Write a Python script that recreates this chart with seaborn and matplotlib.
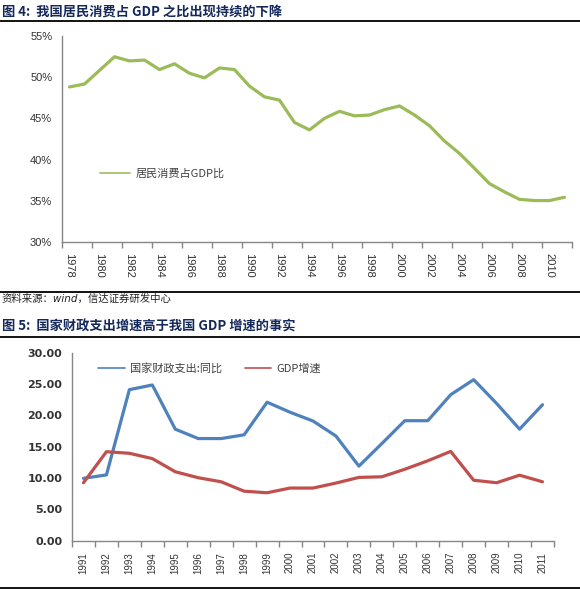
import matplotlib
matplotlib.use("Agg")
import matplotlib.pyplot as plt
import seaborn as sns
import pandas as pd
from matplotlib.lines import Line2D

# 图4 data
years1 = list(range(1978, 2012))
consume_share = [48.8, 49.15, 50.8, 52.45, 51.95, 52.05, 50.9, 51.6, 50.45, 49.9,
                 51.1, 50.9, 48.9, 47.6, 47.2, 44.5, 43.6, 45.0, 45.85, 45.3,
                 45.4, 46.05, 46.5, 45.4, 44.1, 42.25, 40.75, 38.95, 37.1, 36.1,
                 35.2, 35.05, 35.05, 35.45]

# 图5 data
years2 = list(range(1991, 2012))
fiscal_growth = [9.95, 10.5, 24.1, 24.85, 17.8, 16.3, 16.3, 16.9, 22.1, 20.5,
                 19.1, 16.7, 11.9, 15.5, 19.15, 19.15, 23.3, 25.7, 21.9, 17.8, 21.7]
gdp_growth = [9.25, 14.2, 13.95, 13.1, 11.0, 10.05, 9.4, 7.9, 7.65, 8.4,
              8.4, 9.2, 10.1, 10.2, 11.4, 12.75, 14.25, 9.65, 9.25, 10.45, 9.4]

sns.set_style("white")
plt.rcParams['font.family'] = ['Noto Sans CJK SC', 'DejaVu Sans']
plt.rcParams['axes.unicode_minus'] = False

W, H = 580, 589
fig = plt.figure(figsize=(W / 100, H / 100), dpi=100)

def fx(px):
    return px / W

def fy(py):
    return 1 - py / H

navy = '#14285a'
axis_gray = '#868686'
num_font = ['Liberation Sans Narrow', 'Liberation Sans', 'DejaVu Sans']

# titles, rules and source
fig.text(fx(2), fy(12), '图 4:  我国居民消费占 GDP 之比出现持续的下降', fontsize=9.5,
         fontweight='heavy', color=navy, va='center', ha='left')
fig.text(fx(2), fy(327), '图 5:  国家财政支出增速高于我国 GDP 增速的事实', fontsize=9.5,
         fontweight='heavy', color=navy, va='center', ha='left')
fig.text(fx(2), fy(299), '资料来源：wind，信达证券研发中心', fontsize=7.5,
         style='italic', family=['DejaVu Sans', 'Noto Sans CJK SC'],
         color='#222222', va='center', ha='left')
for py in (21, 292, 337, 588):
    fig.add_artist(Line2D([0, 1], [fy(py), fy(py)], color='black', lw=1.3,
                          transform=fig.transFigure))

def style_axis(ax):
    for s in ('top', 'right'):
        ax.spines[s].set_visible(False)
    for s in ('left', 'bottom'):
        ax.spines[s].set_color(axis_gray)
        ax.spines[s].set_linewidth(1.0)
    ax.tick_params(axis='y', which='major', direction='out', length=4, width=1,
                   color=axis_gray, pad=3)
    ax.tick_params(axis='x', which='major', length=0)
    ax.tick_params(axis='x', which='minor', direction='out', length=4, width=1,
                   color=axis_gray, bottom=True)
    ax.set_xlabel('')
    ax.set_ylabel('')
    ax.grid(False)

def thin_legend(leg):
    for h in leg.legend_handles:
        h.set_linewidth(1.2)

# ---- chart 1
ax1 = fig.add_axes([fx(62), fy(242.3), fx(510), (242.3 - 35.7) / H])
df1 = pd.DataFrame({'idx': range(len(years1)), 'val': consume_share})
sns.lineplot(data=df1, x='idx', y='val', color='#9bbb59', lw=2.3, ax=ax1,
             label='居民消费占GDP比')
ax1.set_xlim(-0.5, len(years1) - 0.5)
ax1.set_ylim(30, 55)
ax1.set_yticks(range(30, 56, 5))
ax1.set_yticklabels([f'{v}%' for v in range(30, 56, 5)], fontsize=8,
                    family=num_font, color='#333333')
ax1.set_xticks(range(0, len(years1), 2))
ax1.set_xticklabels([str(y) for y in years1[::2]], rotation=270, fontsize=8,
                    family=num_font, color='#333333', va='top', ha='center')
ax1.set_xticks([i - 0.5 for i in range(0, len(years1) + 1, 2)], minor=True)
style_axis(ax1)
ax1.tick_params(axis='x', which='major', pad=8)
leg1 = ax1.legend(loc='center left', bbox_to_anchor=(fx(100), fy(174)),
                  bbox_transform=fig.transFigure, frameon=False, fontsize=8,
                  handlelength=2.7, handletextpad=0.5, borderpad=0, borderaxespad=0,
                  labelcolor='#404040')
thin_legend(leg1)

# ---- chart 2
ax2 = fig.add_axes([fx(72), fy(540.7), fx(482), (540.7 - 352.7) / H])
df2 = pd.DataFrame({
    'idx': list(range(len(years2))) * 2,
    'val': fiscal_growth + gdp_growth,
    'series': ['国家财政支出:同比'] * len(years2) + ['GDP增速'] * len(years2),
})
sns.lineplot(data=df2, x='idx', y='val', hue='series', lw=2.3, ax=ax2,
             palette={'国家财政支出:同比': '#4f81bd', 'GDP增速': '#c0504d'})
ax2.set_xlim(-0.5, len(years2) - 0.5)
ax2.set_ylim(0, 30)
ax2.set_yticks(range(0, 31, 5))
ax2.set_yticklabels([f'{v:.2f}' for v in range(0, 31, 5)], fontsize=8,
                    family=['DejaVu Sans'], fontweight='bold', color='#333333')
ax2.set_xticks(range(len(years2)))
ax2.set_xticklabels([str(y) for y in years2], rotation=90, fontsize=7,
                    family=num_font, color='#333333', va='top', ha='center')
ax2.set_xticks([i - 0.5 for i in range(len(years2) + 1)], minor=True)
style_axis(ax2)
ax2.tick_params(axis='x', which='major', pad=8)
leg2 = ax2.legend(loc='center left', bbox_to_anchor=(fx(98), fy(368)),
                  bbox_transform=fig.transFigure, frameon=False, fontsize=8, ncol=2,
                  handlelength=2.4, handletextpad=0.5, columnspacing=2.0, borderpad=0,
                  borderaxespad=0, labelcolor='#404040', title=None)
thin_legend(leg2)

fig.savefig('out.png', dpi=100)
